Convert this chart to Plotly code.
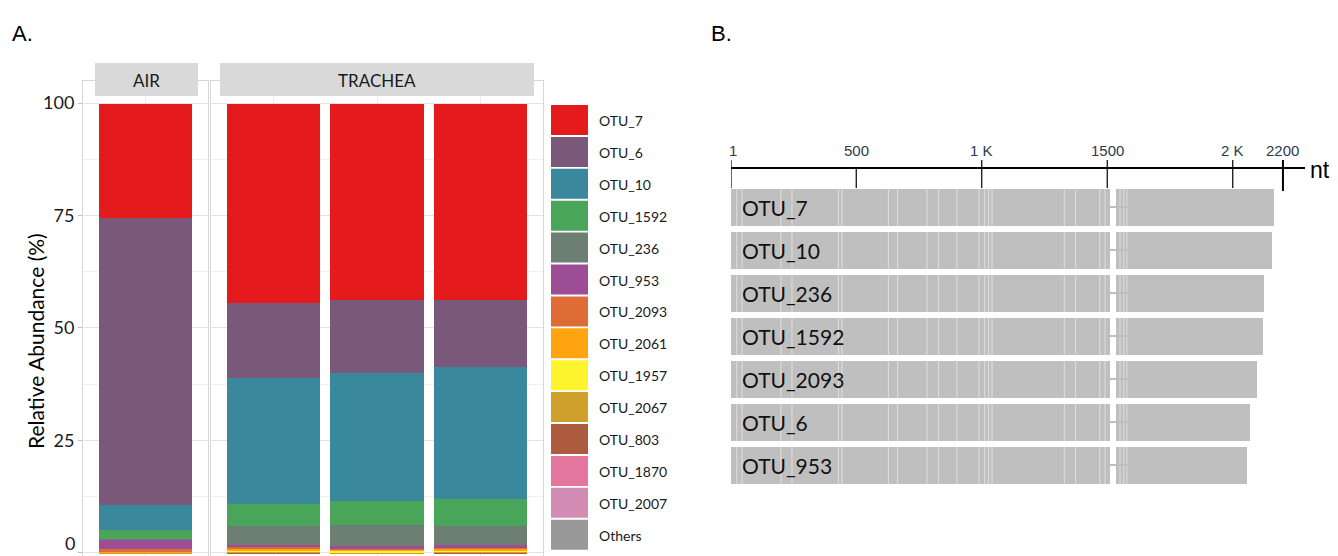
import plotly.graph_objects as go

W, H = 1338, 556

# ---------------- data: panel A ----------------
otus = ["OTU_7", "OTU_6", "OTU_10", "OTU_1592", "OTU_236", "OTU_953", "OTU_2093",
        "OTU_2061", "OTU_1957", "OTU_2067", "OTU_803", "OTU_1870", "OTU_2007", "Others"]
otu_colors = ["#E41A1C", "#7A5879", "#3A889C", "#49A55A", "#6C7F72", "#9D4D96", "#E06C35",
              "#FFA30F", "#FDF42E", "#CFA12B", "#AD5B3E", "#E2769D", "#D38CB4", "#999999"]
air_values = [25.5, 63.8, 5.5, 1.9, 0.2, 2.2, 0.4, 0.2, 0.1, 0.2, 0.0, 0.0, 0.0, 0.0]
trachea_1 = [44.4, 16.7, 27.9, 5.0, 4.1, 0.5, 0.35, 0.35, 0.35, 0.2, 0.1, 0.05, 0.0, 0.0]
trachea_2 = [43.6, 16.4, 28.4, 5.2, 4.8, 0.4, 0.3, 0.3, 0.3, 0.2, 0.1, 0.0, 0.0, 0.0]
trachea_3 = [43.6, 14.9, 29.5, 5.8, 4.4, 0.5, 0.3, 0.3, 0.3, 0.2, 0.1, 0.1, 0.0, 0.0]
y_ticks = [0, 25, 50, 75, 100]

# ---------------- data: panel B ----------------
rows_b = ["OTU_7", "OTU_10", "OTU_236", "OTU_1592", "OTU_2093", "OTU_6", "OTU_953"]
seq_end = [2163, 2156, 2126, 2121, 2097, 2069, 2056]
block1_end = 1509
block2_start = 1536
gap_link = [1509, 1588]
align_gaps = [24, 45, 200, 244, 429, 443, 628, 665, 782, 828, 901, 989, 1012, 1027, 1041,
              1329, 1374, 1470, 1491, 1551, 1566, 1578]
axis_ticks = [1, 500, 1000, 1500, 2000, 2200]
axis_labels = ["1", "500", "1 K", "1500", "2 K", "2200"]
axis_long = [True, False, True, True, True, True]


def px_x(p):
    return p / W


def px_y(p):
    return (H - p) / H


FONT = "Lato, 'Open Sans', sans-serif"
fig = go.Figure()

# ---- panel A bars (bottom = last OTU) ----
samples_t = [trachea_1, trachea_2, trachea_3]
base_air = 0.0
base_t = [0.0, 0.0, 0.0]
for i in reversed(range(len(otus))):
    fig.add_trace(go.Bar(x=[0], y=[air_values[i]], base=[base_air], width=0.9,
                         marker=dict(color=otu_colors[i], line=dict(width=0)),
                         xaxis="x", yaxis="y", showlegend=False, name=otus[i]))
    base_air += air_values[i]
    vals = [s[i] for s in samples_t]
    fig.add_trace(go.Bar(x=[1, 2, 3], y=vals, base=list(base_t), width=0.9,
                         marker=dict(color=otu_colors[i], line=dict(width=0)),
                         xaxis="x2", yaxis="y2", showlegend=False, name=otus[i]))
    base_t = [b + v for b, v in zip(base_t, vals)]

# ---- panel B bars ----
nrow = len(rows_b)
fig.add_trace(go.Bar(y=list(range(nrow)), x=[block1_end - 1] * nrow, base=[1] * nrow,
                     orientation="h", width=0.88, marker=dict(color="#BFBFBF", line=dict(width=0)),
                     xaxis="x3", yaxis="y3", showlegend=False))
fig.add_trace(go.Bar(y=list(range(nrow)), x=[e - block2_start for e in seq_end],
                     base=[block2_start] * nrow, orientation="h", width=0.88,
                     marker=dict(color="#BFBFBF", line=dict(width=0)),
                     xaxis="x3", yaxis="y3", showlegend=False))
gx, gy = [], []
for g in align_gaps:
    gx += [g, g, None]
    gy += [-0.44, nrow - 0.56, None]
fig.add_trace(go.Scatter(x=gx, y=gy, mode="lines", line=dict(color="rgba(255,255,255,0.5)", width=1),
                         xaxis="x3", yaxis="y3", showlegend=False, hoverinfo="skip"))
lx, ly = [], []
for r in range(nrow):
    lx += [gap_link[0], gap_link[1], None]
    ly += [r, r, None]
fig.add_trace(go.Scatter(x=lx, y=ly, mode="lines", line=dict(color="#BFBFBF", width=2),
                         xaxis="x3", yaxis="y3", showlegend=False, hoverinfo="skip"))

# ---- axes ----
y_top, y_bot = px_y(80.5), 0.0
grid = "#E3E3E3"
border = "#D6D6D6"
common_x = dict(showticklabels=False, ticks="", showgrid=True, gridcolor="#EBEBEB", gridwidth=1,
                showline=True, mirror=True, linecolor=border, linewidth=1, zeroline=False)
# the "0" label sits at the very bottom edge; it is written as an annotation kept inside the page
tick_text = ["" if v == 0 else str(v) for v in y_ticks]
fig.update_layout(
    xaxis=dict(domain=[px_x(83), px_x(208)], range=[-0.6, 0.6], tickvals=[0], **common_x),
    xaxis2=dict(domain=[px_x(211), px_x(543)], range=[0.4, 3.6], tickvals=[1, 2, 3], anchor="y2", **common_x),
    yaxis=dict(domain=[y_bot, y_top], range=[-0.67, 105], tickvals=y_ticks,
               ticktext=tick_text, ticks="outside", ticklen=4, tickcolor="#BDBDBD",
               tickfont=dict(family=FONT, size=18, color="#1A1A1A"), showgrid=True, gridcolor=grid,
               minor=dict(dtick=12.5, tick0=0, showgrid=True, gridcolor="#F0F0F0", gridwidth=1),
               zeroline=False, showline=True, mirror=True, linecolor=border, anchor="x"),
    yaxis2=dict(domain=[y_bot, y_top], range=[-0.67, 105], matches="y", tickvals=y_ticks,
                showticklabels=False, ticks="", showgrid=True, gridcolor=grid,
                minor=dict(dtick=12.5, tick0=0, showgrid=True, gridcolor="#F0F0F0", gridwidth=1),
                zeroline=False, showline=True, mirror=True, linecolor=border, anchor="x2"),
    xaxis3=dict(domain=[px_x(731), px_x(1305)], range=[1, 1 + 574 / 0.251], visible=False, anchor="y3"),
    yaxis3=dict(domain=[px_y(486.5), px_y(185.5)], range=[nrow - 0.5, -0.5], visible=False, anchor="x3"),
    barmode="overlay", bargap=0,
    width=W, height=H, margin=dict(l=0, r=0, t=0, b=0),
    plot_bgcolor="white", paper_bgcolor="white",
)

shapes, ann = [], []
ann.append(dict(xref="paper", yref="paper", x=px_x(77), y=0, text=str(y_ticks[0]), showarrow=False,
                xanchor="right", yanchor="bottom",
                font=dict(family=FONT, size=18, color="#1A1A1A")))
# strips
for x0, x1, label in [(95, 198, "AIR"), (220, 534, "TRACHEA")]:
    shapes.append(dict(type="rect", xref="paper", yref="paper", x0=px_x(x0), x1=px_x(x1),
                       y0=px_y(96), y1=px_y(63), fillcolor="#D9D9D9", line=dict(width=0)))
    ann.append(dict(xref="paper", yref="paper", x=px_x((x0 + x1) / 2), y=px_y(80), text=label,
                    showarrow=False, font=dict(family=FONT, size=17, color="#1A1A1A"),
                    xanchor="center", yanchor="middle"))
# y title
ann.append(dict(xref="paper", yref="paper", x=px_x(35), y=px_y(341), text="Relative Abundance (%)",
                textangle=-90, showarrow=False, font=dict(family=FONT, size=21, color="#000000"),
                xanchor="center", yanchor="middle"))
# legend
for i, (name, col) in enumerate(zip(otus, otu_colors)):
    top = 105 + i * 31.9
    shapes.append(dict(type="rect", xref="paper", yref="paper", x0=px_x(551), x1=px_x(588),
                       y0=px_y(top + 30), y1=px_y(top), fillcolor=col, line=dict(width=0)))
    ann.append(dict(xref="paper", yref="paper", x=px_x(597), y=px_y(top + 15.5), text=name,
                    showarrow=False, font=dict(family=FONT, size=14, color="#1A1A1A"),
                    xanchor="left", yanchor="middle"))
# panel letters
for x, t in [(10, "A."), (709, "B.")]:
    ann.append(dict(xref="paper", yref="paper", x=px_x(x), y=px_y(34), text=t, showarrow=False,
                    font=dict(family="Liberation Sans, Arial, sans-serif", size=22, color="#000000"),
                    xanchor="left", yanchor="middle"))
# panel B sequence axis
ax_y = 168
shapes.append(dict(type="line", xref="x3", yref="paper", x0=1, x1=1 + 574 / 0.251,
                   y0=px_y(ax_y), y1=px_y(ax_y), line=dict(color="#000000", width=2)))
for tv, tl, lg in zip(axis_ticks, axis_labels, axis_long):
    shapes.append(dict(type="line", xref="x3", yref="paper", x0=tv, x1=tv,
                       y0=px_y(188 if tv != 2200 else 191), y1=px_y(160 if lg else ax_y),
                       line=dict(color="#000000", width=2 if tv == 2200 else 1.2)))
    ann.append(dict(xref="x3", yref="paper", x=tv, y=px_y(150), text=tl, showarrow=False,
                    font=dict(family="'Liberation Sans Narrow', 'Arial Narrow', 'Liberation Sans', sans-serif",
                              size=15, color="#2E3B4E"),
                    xanchor="center", yanchor="middle", xshift=2 if tv == 1 else 0))
ann.append(dict(xref="paper", yref="paper", x=px_x(1308), y=px_y(170), text="nt", showarrow=False,
                font=dict(family="Liberation Sans, Arial, sans-serif", size=23, color="#000000"),
                xanchor="left", yanchor="middle"))
for r, name in enumerate(rows_b):
    ann.append(dict(xref="x3", yref="y3", x=1, y=r, text=name, showarrow=False, xanchor="left",
                    yanchor="middle", xshift=9, font=dict(family=FONT, size=21, color="#111111")))

fig.update_layout(shapes=shapes, annotations=ann)
post = ("document.body.style.margin='0';document.body.style.overflow='hidden';")
fig.write_html("out.html", config={"displayModeBar": False}, post_script=post)
